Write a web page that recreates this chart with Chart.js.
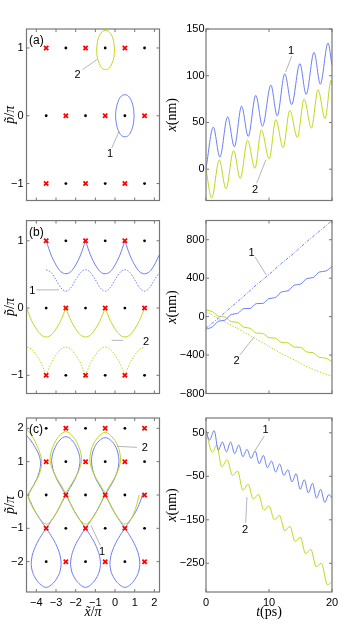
<!DOCTYPE html>
<html>
<head>
<meta charset="utf-8">
<script src="https://cdn.jsdelivr.net/npm/chart.js@4"></script>
<style>
  html, body { margin: 0; padding: 0; background: #fff; }
  #wrap { position: relative; width: 355px; height: 625px; overflow: hidden; }
  canvas { position: absolute; }
</style>
</head>
<body>
<div id="wrap">
  <canvas id="pa" width="170" height="192" style="left:0;top:19px"></canvas>
  <canvas id="ra" width="195" height="192" style="left:160px;top:19px"></canvas>
  <canvas id="pb" width="170" height="193" style="left:0;top:211px"></canvas>
  <canvas id="rb" width="195" height="193" style="left:160px;top:211px"></canvas>
  <canvas id="pc" width="170" height="217" style="left:0;top:408px"></canvas>
  <canvas id="rc" width="195" height="217" style="left:160px;top:408px"></canvas>
</div>
<script>
// ---- lattice points (x~/pi, p~/pi) ----
const dotsAB  = [[-2.5,1],[-0.5,1],[1.5,1],[-3.5,0],[-1.5,0],[0.5,0],[-2.5,-1],[-0.5,-1],[1.5,-1]];
const crossAB = [[-3.5,1],[-1.5,1],[0.5,1],[-2.5,0],[-0.5,0],[1.5,0],[-3.5,-1],[-1.5,-1],[0.5,-1]];
const dotsC  = [[-3.5,2],[-1.5,2],[0.5,2],[-2.5,1],[-0.5,1],[1.5,1],[-3.5,0],[-1.5,0],[0.5,0],
                [-2.5,-1],[-0.5,-1],[1.5,-1],[-3.5,-2],[-1.5,-2],[0.5,-2]];
const crossC = [[-2.5,2],[-0.5,2],[1.5,2],[-3.5,1],[-1.5,1],[0.5,1],[-2.5,0],[-0.5,0],[1.5,0],
                [-3.5,-1],[-1.5,-1],[0.5,-1],[-2.5,-2],[-0.5,-2],[1.5,-2]];

// ---- (a) phase space orbits ----
const aBlueLoop = [[0.97,0],[0.93,0.12],[0.83,0.22],[0.68,0.29],[0.5,0.31],[0.32,0.29],[0.17,0.22],[0.07,0.12],[0.03,0],
  [0.07,-0.12],[0.17,-0.22],[0.32,-0.29],[0.5,-0.31],[0.68,-0.29],[0.83,-0.22],[0.93,-0.12],[0.97,0]];
const aGreenLoop = [[-0.03,0.97],[-0.06,1.08],[-0.16,1.18],[-0.31,1.24],[-0.48,1.26],[-0.65,1.24],[-0.8,1.18],[-0.9,1.08],[-0.93,0.97],
  [-0.9,0.86],[-0.8,0.77],[-0.65,0.7],[-0.48,0.68],[-0.31,0.7],[-0.16,0.77],[-0.06,0.86],[-0.03,0.97]];

// ---- (a) x(t) ----
const tA1 = [0,1.16,2.2,3.43,4.5,5.65,6.7,7.9,8.97,10.3,11.3,12.5,13.6,14.9,15.9,17.15,18.15,19.37,20];
const xA1 = [0.7,45,13,56,24,67.5,35,79,46,90,57,102,69,113,80,125,91,135,111];
const tA2 = [0,0.9,2.1,3.17,4.38,5.44,6.6,7.76,8.8,10.03,11.08,12.24,13.3,14.5,15.57,16.73,17.78,18.9,19.85,20];
const xA2 = [0,-31,10,-21,20,-10,31,1,42,11,53,23,63,34,75,44,85,54,95,90];

// ---- (b) phase space (null = break at cusp) ----
const bBlueSolid = [[-3.5,1],[-3.25,0.79],[-3,0.64],[-2.75,0.54],[-2.5,0.51],[-2.25,0.54],[-2,0.64],[-1.75,0.79],[-1.5,1],[-1.5,null],
  [-1.5,1],[-1.25,0.79],[-1,0.64],[-0.75,0.54],[-0.5,0.51],[-0.25,0.54],[0,0.64],[0.25,0.79],[0.5,1],[0.5,null],
  [0.5,1],[0.75,0.79],[1,0.64],[1.25,0.54],[1.5,0.51],[1.75,0.54],[2,0.64],[2.26,0.8]];
const bBlueDot = [[-3.5,0.57],[-3.25,0.53],[-3,0.42],[-2.75,0.3],[-2.5,0.25],[-2.25,0.3],[-2,0.42],[-1.75,0.53],[-1.5,0.57],
  [-1.25,0.53],[-1,0.42],[-0.75,0.3],[-0.5,0.25],[-0.25,0.3],[0,0.42],[0.25,0.53],[0.5,0.57],[0.75,0.53],[1,0.42],
  [1.25,0.3],[1.5,0.25],[1.75,0.3],[2,0.42],[2.26,0.53]];
const bGreenSolid = [[-4.48,-0.01],[-4.25,-0.18],[-4,-0.31],[-3.75,-0.4],[-3.5,-0.43],[-3.25,-0.4],[-3,-0.31],[-2.75,-0.18],[-2.5,0],[-2.5,null],
  [-2.5,0],[-2.25,-0.18],[-2,-0.31],[-1.75,-0.4],[-1.5,-0.43],[-1.25,-0.4],[-1,-0.31],[-0.75,-0.18],[-0.5,0],[-0.5,null],
  [-0.5,0],[-0.25,-0.18],[0,-0.31],[0.25,-0.4],[0.5,-0.43],[0.75,-0.4],[1,-0.31],[1.25,-0.18],[1.5,0]];
const bGreenDot = [[-4.48,-0.58],[-4.25,-0.61],[-4,-0.7],[-3.75,-0.82],[-3.5,-1],[-3.5,null],
  [-3.5,-1],[-3.25,-0.82],[-3,-0.7],[-2.75,-0.61],[-2.5,-0.58],[-2.25,-0.61],[-2,-0.7],[-1.75,-0.82],[-1.5,-1],[-1.5,null],
  [-1.5,-1],[-1.25,-0.82],[-1,-0.7],[-0.75,-0.61],[-0.5,-0.58],[-0.25,-0.61],[0,-0.7],[0.25,-0.82],[0.5,-1],[0.5,null],
  [0.5,-1],[0.75,-0.82],[1,-0.7],[1.25,-0.61],[1.5,-0.58]];

// ---- (b) x(t) ----
const tB = [0,1,2,3,4,5,6,7,8,9,10,11,12,13,14,15,16,17,18,19,20];
const xB1 = [-130,-107,-48,-37,22,33,83,85,135,137,187,198,257,268,327,338,396,406,464,474,520];
const xB2 = [70,52,4,-4,-52,-60,-110,-121,-171,-175,-219,-224,-269,-273,-317,-320,-368,-376,-424,-432,-470];
const tBd = [0,2,4,6,8,10,12,14,16,18,20];
const xB1d = [-120,-15,100,212,330,438,555,662,780,888,1000];
const xB2d = [52,-20,-90,-160,-235,-310,-385,-450,-520,-575,-620];

// ---- (c) phase space ----
const cBlue = [
  [-4.5,1.78],[-4.3,1.65],[-4.05,1.42],[-3.84,1.15],[-3.79,0.9],[-3.9,0.6],[-4.12,0.32],[-4.34,0.1],[-4.42,0],
  [-4.3,-0.2],[-4.05,-0.5],[-3.75,-0.78],[-3.5,-1],
  [-3.25,-1.22],[-2.95,-1.55],[-2.76,-1.92],[-2.78,-2.25],[-2.98,-2.52],[-3.25,-2.7],[-3.5,-2.77],[-3.75,-2.7],[-4.02,-2.52],[-4.22,-2.25],[-4.24,-1.92],[-4.05,-1.55],[-3.75,-1.22],[-3.5,-1],
  [-3.25,-0.78],[-2.95,-0.5],[-2.7,-0.22],[-2.5,0],
  [-2.28,0.22],[-1.98,0.55],[-1.8,0.9],[-1.8,1.15],[-1.95,1.42],[-2.2,1.65],[-2.5,1.75],[-2.8,1.65],[-3.05,1.42],[-3.2,1.15],[-3.2,0.9],[-3.02,0.55],[-2.72,0.22],[-2.5,0],
  [-2.3,-0.22],[-2.05,-0.5],[-1.75,-0.78],[-1.5,-1],
  [-1.25,-1.22],[-0.95,-1.55],[-0.76,-1.92],[-0.78,-2.25],[-0.98,-2.52],[-1.25,-2.7],[-1.5,-2.77],[-1.75,-2.7],[-2.02,-2.52],[-2.22,-2.25],[-2.24,-1.92],[-2.05,-1.55],[-1.75,-1.22],[-1.5,-1],
  [-1.25,-0.78],[-0.95,-0.5],[-0.7,-0.22],[-0.5,0],
  [-0.28,0.22],[0.02,0.55],[0.18,0.9],[0.18,1.15],[0.05,1.42],[-0.2,1.63],[-0.5,1.72],[-0.8,1.63],[-1.05,1.42],[-1.18,1.15],[-1.18,0.9],[-1.02,0.55],[-0.72,0.22],[-0.5,0],
  [-0.3,-0.22],[-0.05,-0.5],[0.25,-0.78],[0.5,-1],
  [0.75,-1.22],[1.05,-1.55],[1.24,-1.92],[1.22,-2.25],[1.02,-2.52],[0.75,-2.7],[0.5,-2.77],[0.25,-2.7],[-0.02,-2.52],[-0.22,-2.25],[-0.24,-1.92],[-0.05,-1.55],[0.25,-1.22],[0.5,-1],
  [0.75,-0.78],[1.05,-0.5],[1.28,-0.2],[1.4,0.02]
];
const cGreen = [
  [-4.5,1.98],[-4.28,1.82],[-4.02,1.55],[-3.8,1.22],[-3.73,0.95],[-3.85,0.62],[-4.1,0.32],[-4.33,0.08],[-4.4,-0.05],
  [-4.25,-0.3],[-3.98,-0.58],[-3.72,-0.79],[-3.5,-0.87],[-3.28,-0.79],[-3.02,-0.58],[-2.75,-0.28],[-2.55,0],
  [-2.3,0.25],[-1.95,0.6],[-1.72,0.95],[-1.72,1.2],[-1.88,1.5],[-2.15,1.76],[-2.5,1.9],[-2.85,1.76],[-3.12,1.5],[-3.28,1.2],[-3.28,0.95],[-3.05,0.6],[-2.7,0.25],[-2.45,0],
  [-2.25,-0.28],[-1.98,-0.58],[-1.72,-0.79],[-1.5,-0.87],[-1.28,-0.79],[-1.02,-0.58],[-0.75,-0.28],[-0.55,0],
  [-0.3,0.25],[0.05,0.6],[0.26,0.95],[0.26,1.2],[0.12,1.5],[-0.15,1.74],[-0.5,1.88],[-0.85,1.74],[-1.12,1.5],[-1.26,1.2],[-1.26,0.95],[-1.05,0.6],[-0.7,0.25],[-0.45,0],
  [-0.25,-0.28],[0.02,-0.58],[0.28,-0.79],[0.5,-0.87],[0.72,-0.79],[0.95,-0.55],[1.12,-0.25],[1.22,0]
];

// ---- (c) x(t) ----
const tC1 = [0,0.55,1.3,1.95,2.6,3.25,3.9,4.55,5.2,5.85,6.5,7.15,7.8,8.45,9.1,9.75,10.4,11.05,11.7,12.35,13,13.65,14.3,14.95,15.6,16.25,16.9,17.55,18.2,18.85,19.5,20];
const xC1 = [56,33,55,10,29,6,29,2,22,-5,12,-9,8,-21,-2,-30,-15,-40,-22,-48,-35,-63,-44,-80,-58,-88,-66,-100,-80,-110,-92,-100];
const tC2 = [0,1,1.7,2.5,3.36,4.2,5.02,5.85,6.68,7.5,8.34,9.2,10,10.85,11.66,12.5,13.32,14.15,14.98,15.8,16.64,17.5,18.3,19.3,20];
const xC2 = [55,5,22,-28,-12,-48,-38,-82,-68,-102,-92,-128,-118,-150,-140,-175,-165,-200,-190,-228,-218,-258,-250,-300,-292];

// ---- axis ticks ----
const phaseXTicks = [-4,-3,-2,-1,0,1,2];
const phaseYTicksAB = [-1,0,1];
const phaseYTicksC = [-2,-1,0,1,2];
const timeTicks = [0,10,20];
const yTicksA = [0,50,100,150];
const yTicksB = [-800,-400,0,400,800];
const yTicksC = [-250,-150,-50,50];

const BLUE = '#6b7ff2';
const GREEN = '#c2d61b';
const SI = 'italic 14px "Liberation Serif"';
const SR = '14px "Liberation Serif"';

const zip = (ts, vs) => ts.map((t, i) => [t, vs[i]]);
const fmt = v => String(v).replace('-', '\u2212');

function richText(ctx, parts, cx, cy, rot) {
  ctx.save();
  ctx.translate(cx, cy);
  if (rot) ctx.rotate(-Math.PI / 2);
  let w = 0;
  parts.forEach(p => { ctx.font = p[1]; w += ctx.measureText(p[0]).width; });
  let xx = -w / 2;
  ctx.textAlign = 'left';
  ctx.textBaseline = 'middle';
  ctx.fillStyle = '#000';
  parts.forEach(p => { ctx.font = p[1]; ctx.fillText(p[0], xx, 0); xx += ctx.measureText(p[0]).width; });
  ctx.restore();
}

// box with inner ticks, panel tag, axis titles and numbered pointers
const decor = {
  id: 'decor',
  afterDatasetsDraw(chart, args, o) {
    const { ctx, chartArea: a, scales: { x, y } } = chart;
    ctx.save();
    (o.notes || []).forEach(n => {
      ctx.strokeStyle = '#a3a3a3';
      ctx.lineWidth = 0.8;
      ctx.beginPath();
      ctx.moveTo(x.getPixelForValue(n.from[0]), y.getPixelForValue(n.from[1]));
      ctx.lineTo(x.getPixelForValue(n.to[0]), y.getPixelForValue(n.to[1]));
      ctx.stroke();
      ctx.fillStyle = '#000';
      ctx.font = '11px "Liberation Sans"';
      ctx.textAlign = 'center';
      ctx.textBaseline = 'middle';
      ctx.fillText(n.text, x.getPixelForValue(n.at[0]), y.getPixelForValue(n.at[1]));
    });
    ctx.strokeStyle = '#777';
    ctx.lineWidth = 1.2;
    ctx.strokeRect(a.left, a.top, a.right - a.left, a.bottom - a.top);
    ctx.lineWidth = 1;
    ctx.beginPath();
    x.ticks.forEach(t => {
      const px = x.getPixelForValue(t.value);
      ctx.moveTo(px, a.bottom); ctx.lineTo(px, a.bottom - 3);
      ctx.moveTo(px, a.top); ctx.lineTo(px, a.top + 3);
    });
    y.ticks.forEach(t => {
      const py = y.getPixelForValue(t.value);
      ctx.moveTo(a.left, py); ctx.lineTo(a.left + 3, py);
      ctx.moveTo(a.right, py); ctx.lineTo(a.right - 3, py);
    });
    ctx.stroke();
    if (o.tag) {
      ctx.fillStyle = '#000';
      ctx.font = '12px "Liberation Sans"';
      ctx.textAlign = 'left';
      ctx.textBaseline = 'top';
      ctx.fillText(o.tag, a.left + 2.5, a.top + 6);
    }
    if (o.yTitle) richText(ctx, o.yTitle, a.left - o.yOff, (a.top + a.bottom) / 2, true);
    if (o.xTitle) richText(ctx, o.xTitle, (a.left + a.right) / 2, a.bottom + 20, false);
    ctx.restore();
  }
};

const markers = (dots, crosses) => [
  { data: crosses, pointStyle: 'crossRot', pointRadius: 3, borderColor: '#ff0000', backgroundColor: '#ff0000', borderWidth: 1.8 },
  { data: dots, pointStyle: 'circle', pointRadius: 1.4, backgroundColor: '#000', borderColor: '#000', borderWidth: 0 }
];
const curve = (data, color, extra) => Object.assign({
  data, showLine: true, pointRadius: 0, borderColor: color, borderWidth: 1, tension: 0.4, spanGaps: false
}, extra || {});
const mono = { cubicInterpolationMode: 'monotone' };
const dotted = { cubicInterpolationMode: 'monotone', borderDash: [1.5, 1.5] };

function panel(id, c) {
  const tickFont = { family: '"Liberation Sans"', size: 11 };
  const noGrid = { display: false, drawTicks: false, tickLength: 0 };
  return new Chart(document.getElementById(id), {
    type: 'scatter',
    data: { datasets: c.datasets },
    options: {
      responsive: false,
      animation: false,
      events: [],
      layout: { padding: c.pad },
      scales: {
        x: {
          type: 'linear', min: c.xr[0], max: c.xr[1],
          grid: noGrid, border: { display: false },
          afterBuildTicks: s => { s.ticks = c.xt.map(v => ({ value: v })); },
          afterFit: s => { s.height = c.xh; },
          ticks: { display: c.xLab, padding: 4, font: tickFont, color: '#000', maxRotation: 0, autoSkip: false, callback: fmt }
        },
        y: {
          type: 'linear', min: c.yr[0], max: c.yr[1],
          grid: noGrid, border: { display: false },
          afterBuildTicks: s => { s.ticks = c.yt.map(v => ({ value: v })); },
          afterFit: s => { s.width = c.yw; },
          ticks: { padding: c.yPad, font: tickFont, color: '#000', autoSkip: false, callback: fmt }
        }
      },
      plugins: { legend: { display: false }, tooltip: { enabled: false }, decor: c.decor }
    },
    plugins: [decor]
  });
}

const PX = [-4.5, 2.26];
const pTitle = [['p\u0303', SI], ['/', SR], ['\u03c0', SI]];
const xnmTitle = [['x', SI], ['(nm)', SR]];

panel('pa', {
  pad: { left: 0, top: 10, right: 10.5, bottom: 10.5 }, xr: PX, yr: [-1.25, 1.28],
  xt: phaseXTicks, yt: phaseYTicksAB, xh: 0, yw: 26.5, xLab: false, yPad: 3,
  datasets: [...markers(dotsAB, crossAB), curve(aBlueLoop, BLUE), curve(aGreenLoop, GREEN)],
  decor: { tag: '(a)', yTitle: pTitle, yOff: 16.5, notes: [
    { text: '2', at: [-1.9, 0.6], from: [-1.65, 0.68], to: [-0.92, 0.83] },
    { text: '1', at: [-0.25, -0.56], from: [-0.17, -0.48], to: [0.2, -0.23] } ] }
});

panel('ra', {
  pad: { left: 0, top: 10, right: 23, bottom: 10.5 }, xr: [0, 20], yr: [-33.5, 150],
  xt: timeTicks, yt: yTicksA, xh: 0, yw: 46, xLab: false, yPad: 1.5,
  datasets: [curve(zip(tA1, xA1), BLUE, mono), curve(zip(tA2, xA2), GREEN, mono)],
  decor: { yTitle: xnmTitle, yOff: 34, notes: [
    { text: '1', at: [13.5, 127], from: [13.6, 121], to: [12.65, 104] },
    { text: '2', at: [7.8, -22], from: [8.05, -15], to: [9.5, 10] } ] }
});

panel('pb', {
  pad: { left: 0, top: 9.5, right: 10.5, bottom: 10.5 }, xr: PX, yr: [-1.27, 1.3],
  xt: phaseXTicks, yt: phaseYTicksAB, xh: 0, yw: 26.5, xLab: false, yPad: 3,
  datasets: [...markers(dotsAB, crossAB),
    curve(bBlueSolid, BLUE, mono), curve(bBlueDot, BLUE, dotted),
    curve(bGreenSolid, GREEN, mono), curve(bGreenDot, GREEN, dotted)],
  decor: { tag: '(b)', yTitle: pTitle, yOff: 16.5, notes: [
    { text: '1', at: [-4.2, 0.25], from: [-4.0, 0.27], to: [-2.85, 0.27] },
    { text: '2', at: [1.58, -0.5], from: [-0.17, -0.48], to: [0.42, -0.48] } ] }
});

panel('rb', {
  pad: { left: 0, top: 9.5, right: 23, bottom: 10.5 }, xr: [0, 20], yr: [-800, 1000],
  xt: timeTicks, yt: yTicksB, xh: 0, yw: 46, xLab: false, yPad: 1.5,
  datasets: [curve(zip(tBd, xB1d), BLUE, { cubicInterpolationMode: 'monotone', borderDash: [3, 1.5, 1, 1.5] }),
    curve(zip(tB, xB1), BLUE, mono),
    curve(zip(tB, xB2), GREEN, mono),
    curve(zip(tBd, xB2d), GREEN, dotted)],
  decor: { yTitle: xnmTitle, yOff: 34, notes: [
    { text: '1', at: [7.25, 665], from: [7.8, 620], to: [9.6, 430] },
    { text: '2', at: [4.87, -457], from: [5.4, -398], to: [7.67, -208] } ] }
});

panel('pc', {
  pad: { left: 0, top: 10, right: 10.5, bottom: 0 }, xr: PX, yr: [-2.91, 2.31],
  xt: phaseXTicks, yt: phaseYTicksC, xh: 33, yw: 26.5, xLab: true, yPad: 3,
  datasets: [...markers(dotsC, crossC), curve(cGreen, GREEN), curve(cBlue, BLUE)],
  decor: { tag: '(c)', yTitle: pTitle, yOff: 16.5, xTitle: [['x\u0303', SI], ['/', SR], ['\u03c0', SI]], notes: [
    { text: '2', at: [1.51, 1.4], from: [0.1, 1.46], to: [1.12, 1.43] },
    { text: '1', at: [-0.66, -1.72], from: [-1.22, -0.92], to: [-0.74, -1.52] } ] }
});

panel('rc', {
  pad: { left: 0, top: 10, right: 23, bottom: 0 }, xr: [0, 20], yr: [-316, 84],
  xt: timeTicks, yt: yTicksC, xh: 33, yw: 46, xLab: true, yPad: 1.5,
  datasets: [curve(zip(tC1, xC1), BLUE, mono), curve(zip(tC2, xC2), GREEN, mono)],
  decor: { yTitle: xnmTitle, yOff: 34, xTitle: [['t', SI], ['(ps)', SR]], notes: [
    { text: '1', at: [9.47, 57], from: [9.25, 43], to: [7.78, 9] },
    { text: '2', at: [6.19, -174], from: [6.3, -157], to: [6.5, -98] } ] }
});
</script>
</body>
</html>
